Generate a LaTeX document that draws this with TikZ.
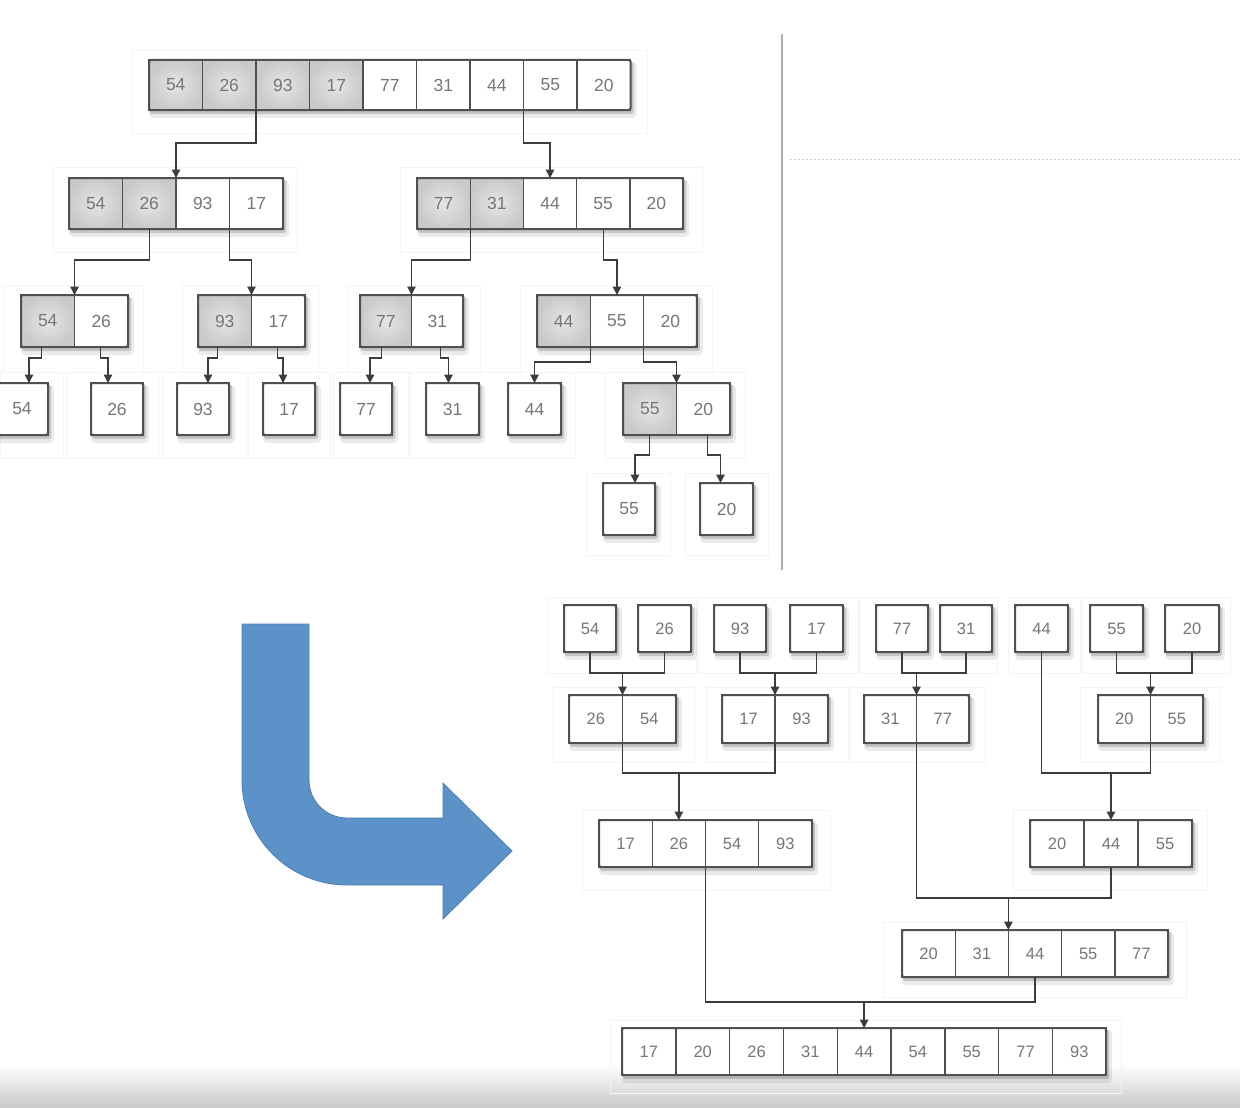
\documentclass[tikz,border=0pt]{standalone}
\usepackage{fontspec}
\setmainfont{Liberation Sans}
\usetikzlibrary{arrows.meta,calc}
\definecolor{cellline}{HTML}{505050}
\definecolor{txtc}{HTML}{767676}
\definecolor{wirec}{HTML}{3C3C3C}
\definecolor{arrowblue}{HTML}{5B93C8}
\definecolor{arrowedge}{HTML}{4F7FB0}
\newcommand\cellfont{\fontsize{17.5}{17.5}\selectfont}
\tikzset{
  cellbase/.style={draw=cellline,line width=1.4pt,inner sep=0pt,outer sep=0pt,
    text=txtc,font=\cellfont},
  wcell/.style={cellbase,fill=white},
  gcell/.style={cellbase,inner color=gray!20,outer color=gray!42},
  outerbox/.style={draw=cellline,line width=2pt,rounded corners=1.5pt},
  linkln/.style={draw=wirec,line width=1.3pt},
  linkar/.style={linkln,-{Triangle[width=8.5pt,length=8.5pt]}},
  faint/.style={draw=gray!9,line width=0.8pt},
}
% #1 name, #2 x, #3 y, #4 cell width, #5 height, #6 number of gray cells, #7 cells, #8 values
\newcommand\grp[8]{%
  \fill[black,opacity=.08,rounded corners=4pt] ({#2+0},{#3+2}) rectangle ({#2+#7*#4+6},{#3+#5+8});
  \fill[black,opacity=.16,rounded corners=2pt] ({#2+1},{#3+2}) rectangle ({#2+#7*#4+3},{#3+#5+4});
  \foreach \v [count=\i] in {#8} {
    \ifnum\i>#6\relax\def\cst{wcell}\else\def\cst{gcell}\fi
    \node[\cst,minimum width=#4pt,minimum height=#5pt] (#1-\i) at ({#2+(\i-0.5)*#4},{#3+#5/2}) {\v};
  }
  \draw[outerbox] (#1-1.north west) rectangle (#1-#7.south east);
}
\begin{document}
\begin{tikzpicture}[x=1pt,y=-1pt]
\useasboundingbox (0,0) rectangle (1240,1108);
\fill[white] (0,0) rectangle (1240,1108);
\shade[top color=white,bottom color=gray!42] (0,1064) rectangle (1240,1108);

% faint background frames
\draw[faint] (132,50) rectangle (647,133);
\draw[faint] (53,167) rectangle (297,252);
\draw[faint] (400,167) rectangle (702,252);
\draw[faint] (3,285) rectangle (143,372);
\draw[faint] (182,285) rectangle (318,372);
\draw[faint] (348,285) rectangle (480,372);
\draw[faint] (520,285) rectangle (712,372);
\draw[faint] (0,372) rectangle (63,458);
\draw[faint] (66,372) rectangle (158,458);
\draw[faint] (162,372) rectangle (246,458);
\draw[faint] (248,372) rectangle (330,458);
\draw[faint] (333,372) rectangle (408,458);
\draw[faint] (410,372) rectangle (575,458);
\draw[faint] (605,372) rectangle (745,458);
\draw[faint] (586,473) rectangle (670,555);
\draw[faint] (685,473) rectangle (768,555);
\draw[faint] (547,597) rectangle (696,673);
\draw[faint] (698,597) rectangle (858,673);
\draw[faint] (859,597) rectangle (997,673);
\draw[faint] (1008,597) rectangle (1080,673);
\draw[faint] (1082,597) rectangle (1230,673);
\draw[faint] (553,687) rectangle (694,762);
\draw[faint] (706,687) rectangle (848,762);
\draw[faint] (850,687) rectangle (985,762);
\draw[faint] (1080,687) rectangle (1220,762);
\draw[faint] (582,810) rectangle (830,890);
\draw[faint] (1013,810) rectangle (1207,890);
\draw[faint] (883,922) rectangle (1186,997);
\draw[faint] (610,1020) rectangle (1121,1093);

% divider lines
\draw[gray!65,line width=1.5pt] (782,34) coordinate (dv1) -- (782,570) coordinate (dv2);
\draw[gray!35,line width=0.8pt,dash pattern=on 2pt off 2pt] (790,159) coordinate (dh1) -- (1240,159) coordinate (dh2);

% ---------- splitting (top) ----------
\grp{T}{149}{60}{53.5}{50}{4}{9}{54,26,93,17,77,31,44,55,20}
\grp{La}{69}{178}{53.5}{51}{2}{4}{54,26,93,17}
\grp{Lb}{417}{178}{53.2}{51}{2}{5}{77,31,44,55,20}
\grp{Ma}{21}{295}{53.5}{52}{1}{2}{54,26}
\grp{Mb}{198}{295}{53.5}{52}{1}{2}{93,17}
\grp{Mc}{360}{295}{51.5}{52}{1}{2}{77,31}
\grp{Md}{537}{295}{53.3}{52}{1}{3}{44,55,20}
\grp{Na}{-4}{383}{52}{52}{0}{1}{54}
\grp{Nb}{91}{383}{52}{52}{0}{1}{26}
\grp{Nc}{177}{383}{52}{52}{0}{1}{93}
\grp{Nd}{263}{383}{52}{52}{0}{1}{17}
\grp{Ne}{340}{383}{52}{52}{0}{1}{77}
\grp{Nf}{426}{383}{53}{52}{0}{1}{31}
\grp{Ng}{508}{383}{53}{52}{0}{1}{44}
\grp{Nh}{623}{383}{53.5}{52}{1}{2}{55,20}
\grp{Pa}{603}{483}{52}{52}{0}{1}{55}
\grp{Pb}{700}{483}{53}{52}{0}{1}{20}

\draw[linkar] (T-2.south east) -- ++(0,33) -| (La-2.north east);
\draw[linkar] (T-7.south east) -- ++(0,33) -| (Lb-3.north);
\draw[linkar] (La-2.south) -- ++(0,31) -| (Ma-1.north east);
\draw[linkar] (La-3.south east) -- ++(0,31) -| (Mb-1.north east);
\draw[linkar] (Lb-1.south east) -- ++(0,31) -| (Mc-1.north east);
\draw[linkar] (Lb-4.south) -- ++(0,31) -| (Md-2.north);
\draw[linkar] ([xshift=-6pt]Ma-1.south) -- ++(0,11) -| ([xshift=7pt]Na-1.north);
\draw[linkar] ([xshift=-1pt]Ma-2.south) -- ++(0,11) -| ([xshift=-9pt]Nb-1.north);
\draw[linkar] ([xshift=-7pt]Mb-1.south) -- ++(0,11) -| ([xshift=5pt]Nc-1.north);
\draw[linkar] ([xshift=-1pt]Mb-2.south) -- ++(0,11) -| ([xshift=-6pt]Nd-1.north);
\draw[linkar] ([xshift=-4pt]Mc-1.south) -- ++(0,11) -| ([xshift=4pt]Ne-1.north);
\draw[linkar] ([xshift=3pt]Mc-2.south) -- ++(0,11) -| ([xshift=-4pt]Nf-1.north);
\draw[linkar] (Md-1.south east) -- ++(0,15) -| (Ng-1.north);
\draw[linkar] (Md-2.south east) -- ++(0,15) -| (Nh-1.north east);
\draw[linkar] (Nh-1.south) -- ++(0,20) -| ([xshift=6pt]Pa-1.north);
\draw[linkar] ([xshift=4pt]Nh-2.south) -- ++(0,20) -| ([xshift=-6pt]Pb-1.north);

% ---------- blue bent arrow ----------
\filldraw[fill=arrowblue,draw=arrowedge,line width=0.8pt]
  (242,624) -- (309,624) -- (309,780) arc[start angle=180,end angle=270,radius=38pt]
  -- (443,818) -- (443,783) -- (512,851) -- (443,919) -- (443,885) -- (347,885)
  arc[start angle=270,end angle=180,radius=105pt] -- cycle;

% ---------- merging (bottom) ----------
\renewcommand\cellfont{\fontsize{16.5}{16.5}\selectfont}
\grp{Aa}{564}{605}{52}{47}{0}{1}{54}
\grp{Ab}{638}{605}{53}{47}{0}{1}{26}
\grp{Ac}{714}{605}{52}{47}{0}{1}{93}
\grp{Ad}{790}{605}{53}{47}{0}{1}{17}
\grp{Ae}{876}{605}{52}{47}{0}{1}{77}
\grp{Af}{940}{605}{52}{47}{0}{1}{31}
\grp{Ag}{1015}{605}{53}{47}{0}{1}{44}
\grp{Ah}{1090}{605}{53}{47}{0}{1}{55}
\grp{Ai}{1165}{605}{54}{47}{0}{1}{20}
\grp{Ba}{569}{695}{53.5}{48}{0}{2}{26,54}
\grp{Bb}{722}{695}{53}{48}{0}{2}{17,93}
\grp{Bc}{864}{695}{52.5}{48}{0}{2}{31,77}
\grp{Bd}{1098}{695}{52.5}{48}{0}{2}{20,55}
\grp{Ca}{599}{820}{53.25}{47}{0}{4}{17,26,54,93}
\grp{Cb}{1030}{820}{54}{47}{0}{3}{20,44,55}
\grp{D}{902}{930}{53.2}{47}{0}{5}{20,31,44,55,77}
\grp{E}{622}{1028}{53.8}{47}{0}{9}{17,20,26,31,44,54,55,77,93}

\draw[linkln] (Aa-1.south) -- ++(0,21) coordinate (m1) -| (Ab-1.south);
\draw[linkar] (m1 -| Ba-1.north east) -- (Ba-1.north east);
\draw[linkln] (Ac-1.south) -- ++(0,21) coordinate (m2) -| (Ad-1.south);
\draw[linkar] (m2 -| Bb-1.north east) -- (Bb-1.north east);
\draw[linkln] (Ae-1.south) -- ++(0,21) coordinate (m3) -| (Af-1.south);
\draw[linkar] (m3 -| Bc-1.north east) -- (Bc-1.north east);
\draw[linkln] (Ah-1.south) -- ++(0,21) coordinate (m4) -| (Ai-1.south);
\draw[linkar] (m4 -| Bd-1.north east) -- (Bd-1.north east);
\draw[linkln] (Ba-1.south east) -- ++(0,30) coordinate (m5) -| (Bb-1.south east);
\draw[linkar] (m5 -| Ca-2.north) -- (Ca-2.north);
\draw[linkln] (Ag-1.south) -- ++(0,121) coordinate (m6) -| (Bd-1.south east);
\draw[linkar] (m6 -| Cb-2.north) -- (Cb-2.north);
\draw[linkln] (Bc-1.south east) -- ++(0,155) coordinate (m7) -| (Cb-2.south);
\draw[linkar] (m7 -| D-2.north east) -- (D-2.north east);
\draw[linkln] (Ca-2.south east) -- ++(0,135) coordinate (m8) -| (D-3.south);
\draw[linkar] (m8 -| E-5.north) -- (E-5.north);
\end{tikzpicture}
\end{document}
